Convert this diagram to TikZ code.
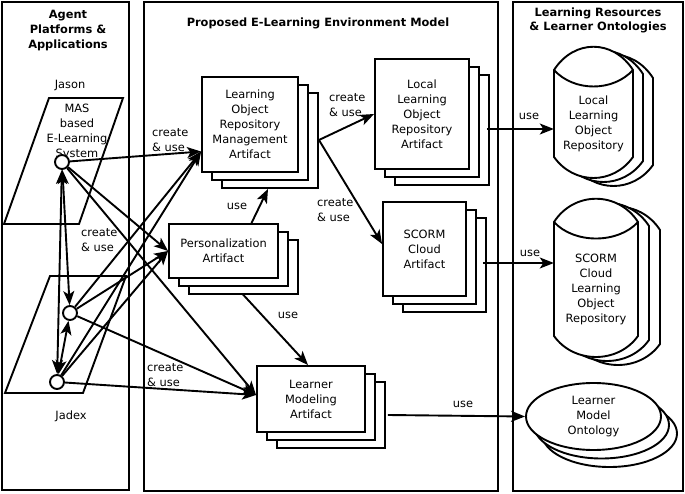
\documentclass[tikz,border=0pt]{standalone}
\usepackage{fontspec}
\setmainfont{DejaVu Sans}
\usetikzlibrary{shapes.geometric,shadows,arrows.meta,calc}
\newcommand{\mycylout}[4]{\filldraw[fill=white,line width=1.9pt] (#1,#3) .. controls +(20,-31) and +(-20,-31) .. (#2,#3) -- (#2,#4) .. controls +(-20,28) and +(20,28) .. (#1,#4) -- cycle;}
\newcommand{\mycylin}[3]{\draw[line width=1.9pt] (#1,#3) .. controls +(20,22) and +(-20,22) .. (#2,#3);}
\begin{document}
\begin{tikzpicture}[x=1pt,y=-1pt,
  every node/.style={font=\fontsize{11.4}{15}\selectfont},
  panel/.style={draw,line width=2pt},
  artifact/.style={draw,fill=white,line width=1.9pt,align=center,inner sep=0pt,
     copy shadow={shadow xshift=20pt,shadow yshift=-16pt},
     copy shadow={shadow xshift=10pt,shadow yshift=-8pt}},
  agent/.style={circle,draw,fill=white,line width=1.9pt,minimum size=14pt,inner sep=0pt},
  arr/.style={line width=1.9pt,-{Stealth[length=14pt,width=11pt,inset=3.5pt]}},
  barr/.style={line width=1.9pt,{Stealth[length=14pt,width=11pt,inset=3.5pt]}-{Stealth[length=14pt,width=11pt,inset=3.5pt]}},
  lbl/.style={align=left,inner sep=0pt,anchor=west},
  ttl/.style={font=\fontsize{11.4}{15}\selectfont\bfseries,align=center}
]
\useasboundingbox (0,0) rectangle (685,494);
% panels
\draw[panel] (2,2) rectangle (129,490);
\draw[panel] (144,2) rectangle (498,491);
\draw[panel] (513,2) rectangle (683,491);
\node[ttl] (t1) at (68,31) {Agent\\Platforms \&\\Applications};
\node[ttl] (t2) at (318,23) {Proposed E-Learning Environment Model};
\node[ttl,font=\fontsize{11.4}{14}\selectfont\bfseries] (t3) at (598,20) {Learning Resources\\\& Learner Ontologies};

% agent platforms
\draw[line width=1.9pt] (49,98) -- (123,98) -- (79,224) -- (4,224) -- cycle;
\draw[line width=1.9pt] (50,276) -- (126,276) -- (83,393) -- (5,393) -- cycle;
\node (jason) at (70,85) {Jason};
\node (jadex) at (71,416) {Jadex};
\node[align=center] (mas) at (77,131.5) {MAS\\based\\E-Learning\\System};
\node[agent] (J) at (62,162) {};
\node[agent] (M) at (70,313) {};
\node[agent] (B) at (57,382) {};

% artifacts
\node[artifact,minimum width=96pt,minimum height=95pt] (lorm) at (250,124.5) {Learning\\Object\\Repository\\Management\\Artifact};
\node[artifact,minimum width=109pt,minimum height=54pt] (pers) at (223.5,251) {Personalization\\Artifact};
\node[artifact,minimum width=94pt,minimum height=110pt] (llor) at (422,114) {Local\\Learning\\Object\\Repository\\Artifact};
\node[artifact,minimum width=83pt,minimum height=94pt] (scorm) at (424.5,249) {SCORM\\Cloud\\Artifact};
\node[artifact,minimum width=108pt,minimum height=66pt] (lm) at (311,399) {Learner\\Modeling\\Artifact};

% cylinders
\mycylout{574}{653}{78}{165}
\mycylout{564}{643}{74}{161}
\mycylout{554}{633}{70}{157}
\mycylin{554}{633}{70}
\mycylout{576}{660}{230}{344}
\mycylout{565}{649}{226}{340}
\mycylout{554}{638}{222}{336}
\mycylin{554}{638}{222}
\node[align=center,inner sep=0pt,minimum width=79pt] (lcyl) at (593.5,124) {Local\\Learning\\Object\\Repository};
\node[align=center,inner sep=0pt,minimum width=84pt] (scyl) at (596,289) {SCORM\\Cloud\\Learning\\Object\\Repository};
\node[ellipse,draw,fill=white,line width=1.9pt,inner sep=0pt,minimum width=135pt,minimum height=67pt,align=center,
  copy shadow={shadow xshift=16pt,shadow yshift=-17pt},
  copy shadow={shadow xshift=8pt,shadow yshift=-8.5pt}] (onto) at (593.5,416.5) {Learner\\Model\\Ontology};

% connectors from agents
\coordinate (lormIn) at ([yshift=-27pt]lorm.west);
\coordinate (lmIn) at ([yshift=4pt]lm.west);
\foreach \s in {J,M,B} {
  \draw[arr] (\s) -- (lormIn);
  \draw[arr] (\s) -- (pers.west);
  \draw[arr] (\s) -- (lmIn);
}
\draw[barr] (J) -- (B);
\draw[barr] (J) -- (M);
\draw[barr] (M) -- (B);

% inner connectors
\coordinate (lormOut) at ([shift={(20,15.5)}]lorm.east);
\draw[arr] (lormOut) -- (llor.west);
\draw[arr] (lormOut) -- ([yshift=5pt]scorm.west);
\draw[arr] ([xshift=28pt]pers.north) -- ([shift={(18,16)}]lorm.south);
\draw[arr] ([shift={(19,15)}]pers.south) -- ([xshift=-3pt]lm.north);
\coordinate (u1) at ([shift={(17,15)}]llor.east);
\draw[arr] (u1) -- (u1 -| lcyl.west);
\coordinate (u2) at ([shift={(16,14)}]scorm.east);
\draw[arr] (u2) -- (u2 -| scyl.west);
\coordinate (u3) at ([shift={(22,16)}]lm.east);
\draw[arr] (u3) -- (onto.west);

% labels
\node[lbl] (c1) at (152,140) {create\\\& use};
\node[lbl] (c2) at (81,240) {create\\\& use};
\node[lbl] (c3) at (147,375) {create\\\& use};
\node[lbl] (c4) at (329,105.5) {create\\\& use};
\node[lbl] (c5) at (317,210.5) {create\\\& use};
\node (ua) at (237,206) {use};
\node (ub) at (288,315) {use};
\node (uc) at (529,116) {use};
\node (ud) at (530,253) {use};
\node (ue) at (463,404) {use};
\end{tikzpicture}
\end{document}
